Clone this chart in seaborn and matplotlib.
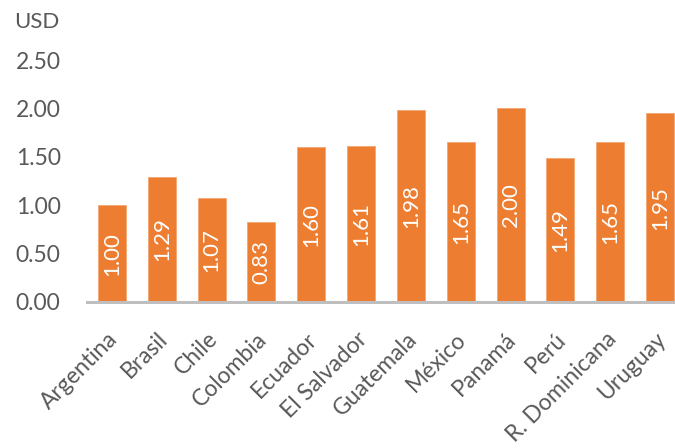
import seaborn as sns
import matplotlib.pyplot as plt
import matplotlib.transforms as mtrans
import pandas as pd

countries = ['Argentina', 'Brasil', 'Chile', 'Colombia', 'Ecuador', 'El Salvador',
             'Guatemala', 'México', 'Panamá', 'Perú', 'R. Dominicana', 'Uruguay']
values = [1.00, 1.29, 1.07, 0.83, 1.60, 1.61, 1.98, 1.65, 2.00, 1.49, 1.65, 1.95]
yticks = [0.0, 0.5, 1.0, 1.5, 2.0, 2.5]

df = pd.DataFrame({'pais': countries, 'usd': values})

sns.set_style('white')
plt.rcParams['font.family'] = ['Lato', 'DejaVu Sans']

fig = plt.figure(figsize=(6.75, 4.48), dpi=100)
ax = fig.add_axes([87 / 675, 0.326, 598 / 675, 0.540])

sns.barplot(data=df, x='pais', y='usd', color='#ED7D31', saturation=1,
            width=0.56, edgecolor='#F4A674', linewidth=0.6, ax=ax)

ax.bar_label(ax.containers[0], labels=['{:.2f}'.format(v) for v in values],
             label_type='center', rotation=90, color='white', fontsize=16)

ax.set_ylim(0, 2.5)
ax.set_xlim(-0.5, len(countries) - 0.5)
ax.set_yticks(yticks)
ax.set_yticklabels(['{:.2f}'.format(t) for t in yticks])
ax.set_xlabel('')
ax.set_ylabel('')
ax.tick_params(axis='both', length=0, labelsize=16.5, labelcolor='#595959')
ax.tick_params(axis='y', pad=19)
ax.tick_params(axis='x', pad=19)
# pull rotated country names back a little so they end at their bar
shift = mtrans.ScaledTranslation(-5 / 100, 0, fig.dpi_scale_trans)
for lbl in ax.get_xticklabels():
    lbl.set_rotation(45)
    lbl.set_ha('right')
    lbl.set_rotation_mode('anchor')
    lbl.set_transform(lbl.get_transform() + shift)

sns.despine(ax=ax, left=True)
ax.spines['bottom'].set_color('#BFBFBF')
ax.spines['bottom'].set_linewidth(2.2)
ax.grid(False)

fig.text(14 / 675, 1 - 22 / 448, 'USD', fontsize=16, color='#595959',
         va='center', ha='left')

fig.savefig('out.png', dpi=100)
